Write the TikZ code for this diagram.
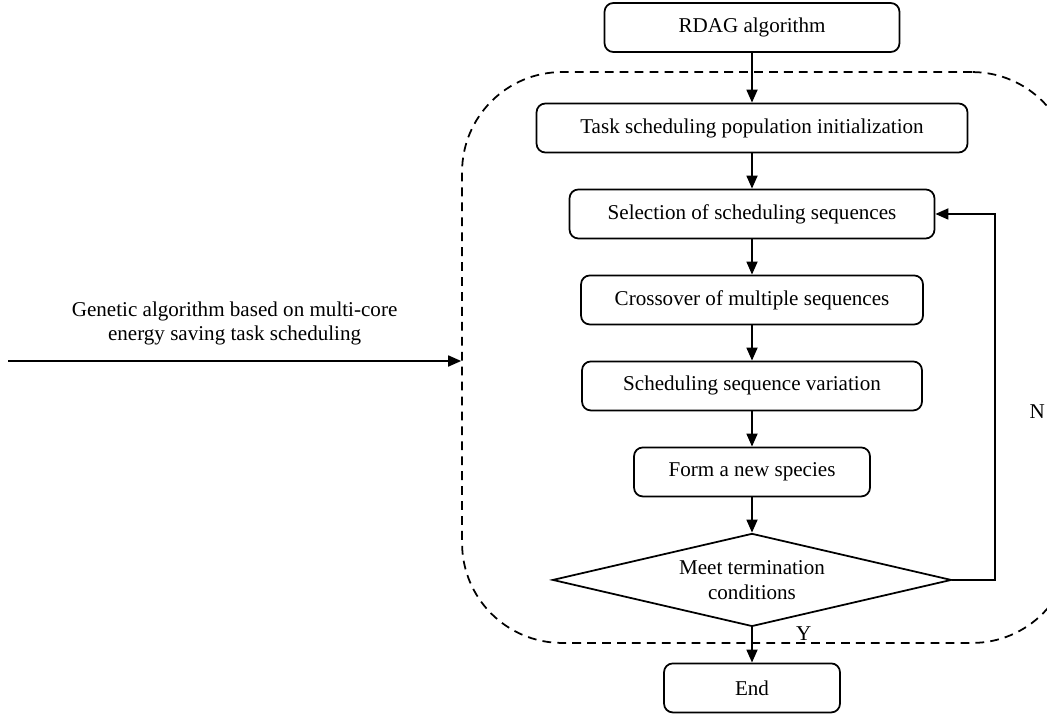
\documentclass[tikz,border=0pt]{standalone}
\usepackage{fontspec}
\setmainfont{Liberation Serif}
\usepackage{tikz}
\usetikzlibrary{shapes.geometric, arrows.meta, positioning}

\begin{document}
\begin{tikzpicture}[
    x=0.02cm, y=-0.02cm,
    node distance=0.705cm,
    font=\fontsize{12}{14}\selectfont,
    block/.style={rectangle, draw, rounded corners=5pt, line width=1pt, minimum width=#1, minimum height=0.98cm, inner sep=2pt, text centered},
    decide/.style={diamond, draw, line width=1pt, aspect=4.3, minimum width=7.98cm, minimum height=1.86cm, inner sep=0pt, align=center},
    frame/.style={rectangle, draw, dashed, dash pattern=on 5pt off 3.5pt, line width=1pt, rounded corners=2cm, minimum width=12.2cm, minimum height=11.42cm},
    arrow/.style={-{Triangle[length=2.6mm, width=2.2mm]}, line width=1pt}
]
\clip (0,0) rectangle (1047,716);

% dashed loop around the genetic algorithm
\node[frame] (loop) at (767,357.5) {};

\node[block=5.9cm] (rdag) at (752,27.5) {RDAG algorithm};
\node[block=8.62cm, below=0.995cm of rdag] (init) {Task scheduling population initialization};
\node[block=7.3cm, below=of init] (select) {Selection of scheduling sequences};
\node[block=6.84cm, below=of select] (cross) {Crossover of multiple sequences};
\node[block=6.8cm, below=of cross] (vary) {Scheduling sequence variation};
\node[block=4.72cm, below=of vary] (species) {Form a new species};
\node[decide, below=of species] (cond) {Meet termination\\conditions};
\node[block=3.52cm, below=of cond] (finish) {End};

\draw[arrow] (rdag) -- (init);
\draw[arrow] (init) -- (select);
\draw[arrow] (select) -- (cross);
\draw[arrow] (cross) -- (vary);
\draw[arrow] (vary) -- (species);
\draw[arrow] (species) -- (cond);
\draw[arrow] (cond) -- node[pos=0.18, right=0.75cm] {Y} (finish);
\draw[arrow] (cond.east) -- ++(0.86cm,0) |- node[pos=0.23, right=0.55cm] {N} (select.east);

% incoming arrow from the left
\coordinate (gastart) at (8,361);
\draw[arrow] (gastart) -- node[above=5pt, align=center] {Genetic algorithm based on multi-core\\energy saving task scheduling} (gastart -| loop.west);

\end{tikzpicture}
\end{document}
